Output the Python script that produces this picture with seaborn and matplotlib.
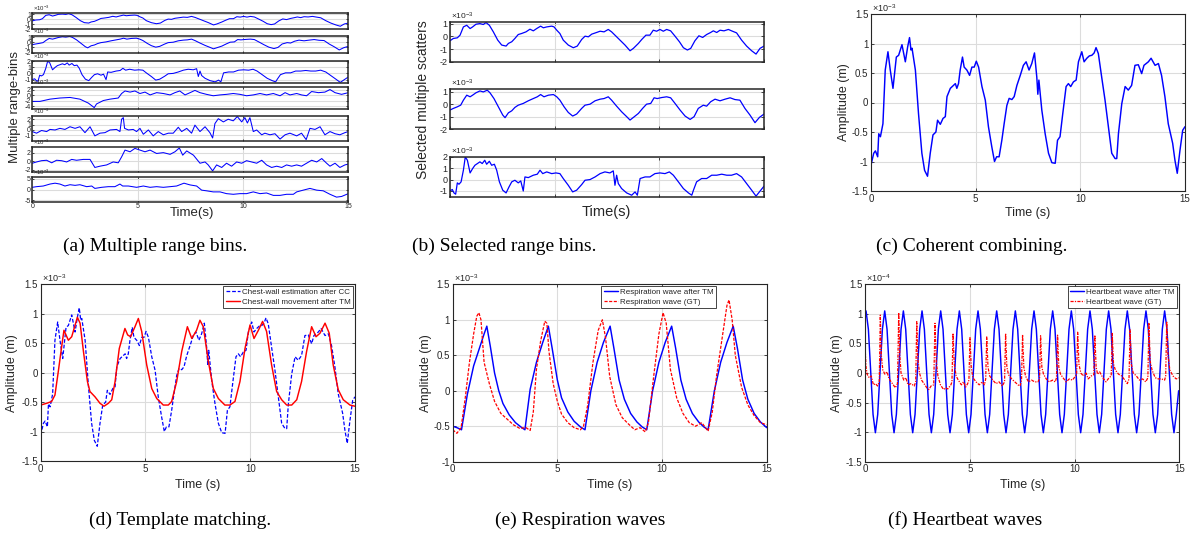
import numpy as np
import pandas as pd
import seaborn as sns
import matplotlib
matplotlib.use('Agg')
import matplotlib.pyplot as plt

W, H = 1193, 536

# ---------------- data (t in s, amplitude in axis units) ----------------
# range bins 1-3 (also the three selected scatters), x1e-3
bin1 = [(0, -0.35), (0.16, -0.17), (0.35, -0.12), (0.48, 0.09), (0.64, 0.74), (0.8, 0.87), (0.96, 0.61),
        (1.08, 0.74), (1.24, 0.95), (1.43, 1.0), (1.59, 0.93), (1.72, 1.08), (1.88, 0.87), (2.07, 0.35),
        (2.28, -0.3), (2.47, -0.69), (2.68, -0.77), (2.79, -0.56), (2.95, -0.43), (3.1, -0.17), (3.26, 0.14),
        (3.42, 0.22), (3.63, 0.35), (3.82, 0.56), (3.98, 0.43), (4.14, 0.61), (4.33, 0.8), (4.46, 0.67),
        (4.62, 0.74), (4.86, 0.8), (4.97, 0.74), (5.1, 0.48), (5.25, 0.22), (5.41, -0.3), (5.65, -0.69),
        (5.89, -0.9), (6.08, -0.77), (6.29, -0.25), (6.45, 0.01), (6.61, -0.04), (6.77, 0.17), (7.0, 0.3),
        (7.17, 0.4), (7.36, 0.35), (7.56, 0.54), (7.72, 0.35), (7.88, 0.09), (8.12, -0.3), (8.36, -0.69),
        (8.6, -1.14), (8.76, -0.95), (9.0, -0.56), (9.16, -0.25), (9.36, 0.09), (9.55, 0.09), (9.71, 0.48),
        (9.87, 0.4), (10.03, 0.54), (10.19, 0.4), (10.35, 0.54), (10.54, 0.43), (10.75, 0.01), (10.96, -0.43),
        (11.15, -0.9), (11.34, -1.08), (11.5, -0.95), (11.7, -0.35), (11.89, 0.04), (12.07, -0.09),
        (12.26, 0.14), (12.45, 0.3), (12.58, 0.43), (12.74, 0.3), (12.9, 0.48), (13.09, 0.43), (13.3, 0.54),
        (13.45, 0.43), (13.69, 0.27), (13.93, -0.3), (14.17, -0.77), (14.41, -1.14), (14.62, -1.4),
        (14.81, -0.95), (15, -0.77)]
bin2 = [(0, -0.46), (0.16, -0.33), (0.35, -0.2), (0.51, -0.07), (0.64, 0.33), (0.8, 0.73), (0.96, 0.6),
        (1.08, 0.73), (1.24, 0.92), (1.43, 1.07), (1.59, 0.99), (1.78, 1.13), (1.91, 0.92), (2.1, 0.46),
        (2.31, -0.2), (2.52, -0.86), (2.63, -1.07), (2.79, -0.68), (2.95, -0.52), (3.1, -0.25), (3.26, -0.07),
        (3.5, 0.07), (3.74, 0.28), (3.98, 0.46), (4.17, 0.6), (4.33, 0.78), (4.49, 0.6), (4.7, 0.73),
        (4.94, 0.78), (5.1, 0.6), (5.25, 0.33), (5.45, -0.2), (5.65, -0.65), (5.86, -0.94), (6.05, -0.78),
        (6.29, -0.33), (6.45, -0.07), (6.69, 0.01), (6.93, 0.28), (7.17, 0.41), (7.36, 0.46), (7.56, 0.6),
        (7.72, 0.33), (7.96, -0.15), (8.2, -0.6), (8.44, -0.99), (8.6, -1.26), (8.76, -1.05), (9.0, -0.73),
        (9.2, -0.33), (9.39, 0.01), (9.59, 0.07), (9.75, 0.52), (9.9, 0.46), (10.11, 0.54), (10.35, 0.6),
        (10.54, 0.52), (10.75, 0.07), (10.99, -0.46), (11.23, -0.94), (11.47, -1.21), (11.66, -0.99),
        (11.86, -0.33), (12.1, -0.07), (12.26, -0.15), (12.45, 0.2), (12.66, 0.41), (12.9, 0.28),
        (13.14, 0.41), (13.38, 0.52), (13.61, 0.38), (13.85, 0.33), (14.09, -0.33), (14.33, -0.86),
        (14.57, -1.47), (14.78, -1.05), (15, -0.78)]
bin3 = [(0, -1.0), (0.11, -0.87), (0.19, -1.17), (0.27, -1.28), (0.35, -0.29), (0.43, -0.41), (0.53, -0.2),
        (0.64, 0.82), (0.73, 1.98), (0.83, 1.69), (0.96, 0.58), (1.08, 0.96), (1.19, 1.25), (1.31, 1.4),
        (1.43, 1.55), (1.54, 1.4), (1.66, 1.69), (1.75, 1.34), (1.88, 1.6), (1.99, 1.25), (2.12, 1.34),
        (2.23, 0.82), (2.36, -0.2), (2.52, -0.93), (2.68, -1.17), (2.82, -0.64), (2.95, -0.2), (3.1, -0.06),
        (3.26, -0.29), (3.38, -0.12), (3.5, -1.0), (3.58, 0.23), (3.74, 0.17), (3.98, 0.38), (4.17, 0.47),
        (4.3, 0.82), (4.43, 0.52), (4.62, 0.67), (4.86, 0.52), (5.06, 0.58), (5.25, 0.52), (5.41, 0.09),
        (5.65, -0.5), (5.86, -1.08), (6.05, -0.93), (6.29, -0.44), (6.45, -0.06), (6.69, 0.0), (6.93, 0.23),
        (7.17, 0.52), (7.4, 0.67), (7.64, 0.58), (7.8, 0.76), (7.88, -0.5), (7.96, 0.38), (8.04, -0.35),
        (8.2, -0.79), (8.44, -1.17), (8.68, -1.37), (8.84, -1.08), (8.95, -1.37), (9.08, 0.09), (9.32, 0.23),
        (9.55, 0.23), (9.79, 0.52), (10.03, 0.58), (10.27, 0.52), (10.48, 0.67), (10.67, 0.38), (10.91, -0.2),
        (11.15, -0.79), (11.39, -1.17), (11.55, -1.37), (11.63, -0.93), (11.78, -0.2), (12.02, 0.09),
        (12.26, 0.09), (12.5, 0.38), (12.74, 0.38), (12.98, 0.47), (13.22, 0.38), (13.45, 0.38), (13.69, 0.52),
        (13.93, 0.23), (14.17, -0.35), (14.41, -0.93), (14.62, -1.45), (14.78, -1.08), (15, -0.58)]
bin4 = [(0, -2.2), (0.36, -2.2), (0.84, -1.4), (1.31, -1.0), (1.79, -0.8), (2.26, -1.4), (2.66, -2.8),
        (2.94, -4.4), (3.05, -3.1), (3.37, -1.9), (3.69, -1.4), (4.08, -1.0), (4.24, 0.6), (4.4, 1.5),
        (4.64, 1.1), (4.87, 1.5), (5.11, 0.6), (5.35, 1.1), (5.59, 0.1), (5.9, 0.9), (6.22, 0.6), (6.54, 0.1),
        (6.77, 0.9), (7.0, 1.5), (7.25, 0.1), (7.49, 0.9), (7.72, 1.7), (7.96, 0.9), (8.27, 0.3), (8.59, -0.2),
        (8.91, 0.1), (9.22, 0.3), (9.54, 0.6), (9.86, 0.3), (10.17, -0.2), (10.49, 0.1), (10.81, 0.6),
        (11.12, 0.1), (11.44, 0.6), (11.76, -0.2), (12.0, 0.9), (12.23, 0.1), (12.55, 0.6), (12.78, 0.1),
        (13.02, -0.2), (13.26, 1.3), (13.58, 0.9), (13.89, 1.1), (14.13, 2.0), (14.37, 0.9), (14.68, 0.3),
        (15, 0.9)]
bin5 = [(0, -0.3), (0.2, -0.6), (0.44, -0.1), (0.68, -0.3), (0.84, 0.1), (1.08, 0.0), (1.31, 0.3), (1.55, 0.1),
        (1.79, 0.6), (2.03, 0.3), (2.26, 0.6), (2.5, -0.5), (2.74, 0.6), (2.97, -1.1), (3.21, -0.6), (3.45, -0.5),
        (3.69, 0.0), (4.0, 0.1), (4.16, -0.3), (4.24, 2.0), (4.32, 2.3), (4.38, 0.3), (4.56, 0.0), (4.79, 0.1),
        (4.95, -0.3), (5.11, 0.3), (5.27, -0.8), (5.51, 0.0), (5.74, -1.1), (5.98, -0.3), (6.22, -0.9),
        (6.46, -0.6), (6.69, -0.6), (6.93, 0.5), (7.09, -0.3), (7.33, 0.3), (7.56, -0.6), (7.72, 0.9),
        (7.96, -0.3), (8.2, 0.6), (8.43, -0.5), (8.56, -1.5), (8.67, 1.2), (8.83, 2.1), (9.07, 1.5), (9.3, 2.0),
        (9.54, 1.7), (9.73, 2.5), (9.94, 1.5), (10.09, 2.3), (10.21, 1.3), (10.33, 2.3), (10.49, -0.3),
        (10.65, 0.0), (10.89, -0.9), (11.04, -0.6), (11.28, -0.9), (11.52, -0.7), (11.76, -1.7), (12.0, -0.9),
        (12.23, -0.6), (12.55, -1.1), (12.78, -0.6), (13.0, -1.8), (13.18, 0.3), (13.42, 0.1), (13.66, 0.6),
        (13.89, -0.9), (14.13, -0.3), (14.37, -0.7), (14.6, -0.9), (14.84, -0.5), (15, -0.3)]
bin6 = [(0, -0.5), (0.2, -0.2), (0.44, 0.1), (0.68, 0.2), (0.92, -0.4), (1.15, 0.2), (1.39, 0.1), (1.63, -0.2),
        (1.87, 0.4), (2.1, 0.2), (2.42, 0.4), (2.74, 0.4), (2.97, -1.5), (3.21, -1.2), (3.53, -0.9), (3.84, -0.2),
        (4.08, -0.4), (4.24, 1.0), (4.4, 2.6), (4.64, 2.2), (4.87, 3.0), (5.11, 2.6), (5.35, 2.2), (5.59, 2.6),
        (5.9, 1.8), (6.22, 2.0), (6.54, 1.6), (6.77, 2.2), (6.98, 3.1), (7.14, 1.4), (7.33, 2.4), (7.65, 1.4),
        (7.96, -0.5), (8.2, -0.2), (8.35, -0.9), (8.56, -2.3), (8.75, -0.9), (8.99, -1.5), (9.22, -0.5),
        (9.46, -1.2), (9.7, -0.2), (9.94, -0.5), (10.17, 0.1), (10.41, -0.2), (10.65, -0.5), (10.89, 0.2),
        (11.12, -0.9), (11.36, -1.5), (11.6, -1.2), (11.84, -1.5), (12.07, -0.9), (12.31, -1.2), (12.55, -0.9),
        (12.78, -1.2), (13.02, -0.5), (13.26, 0.2), (13.5, -0.2), (13.74, 0.6), (13.97, -0.5), (14.13, -1.2),
        (14.37, -0.5), (14.6, -1.5), (14.84, -0.9), (15, -0.7)]
bin7 = [(0, 1.0), (0.2, 1.3), (0.52, 1.6), (0.84, 2.5), (1.08, 2.9), (1.31, 2.5), (1.55, 1.6), (1.79, 2.2),
        (2.03, 1.9), (2.26, 2.2), (2.58, 1.3), (2.82, 1.6), (2.97, 0.5), (3.29, 1.0), (3.61, 1.3), (3.92, 1.3),
        (4.16, 2.5), (4.29, 1.6), (4.56, 1.6), (4.95, 1.0), (5.27, 1.6), (5.59, 1.0), (5.9, 1.3), (6.22, 1.0),
        (6.54, 1.3), (6.85, 1.6), (7.2, 2.9), (7.49, 2.1), (7.8, 1.6), (8.04, -0.3), (8.27, -0.6), (8.59, -1.1),
        (8.91, -1.1), (9.22, -1.9), (9.54, -2.2), (9.86, -1.9), (10.17, -1.9), (10.49, -1.1), (10.81, -1.9),
        (11.12, -1.6), (11.44, -2.7), (11.76, -2.7), (12.07, -2.2), (12.39, -2.2), (12.55, -1.1), (12.86, -0.3),
        (13.18, 0.5), (13.5, -0.3), (13.81, -0.6), (14.13, -2.2), (14.44, -3.5), (14.68, -3.2), (15, -1.9)]

# coherent combining output (x1e-3)
cc_wave = [(0, -1.06), (0.13, -0.86), (0.21, -0.82), (0.32, -0.92), (0.37, -0.53), (0.45, -0.58), (0.57, -0.36),
           (0.68, 0.55), (0.81, 0.86), (0.92, 0.55), (1.05, 0.24), (1.21, 0.77), (1.32, 0.80), (1.48, 0.98),
           (1.64, 0.69), (1.75, 0.94), (1.84, 1.10), (1.91, 0.89), (1.96, 0.92), (2.12, 0.55), (2.27, -0.19),
           (2.43, -0.86), (2.56, -1.15), (2.70, -1.25), (2.83, -0.86), (2.96, -0.55), (3.10, -0.50), (3.18, -0.30),
           (3.31, -0.37), (3.44, -0.27), (3.55, -0.24), (3.63, 0.10), (3.79, 0.24), (3.91, 0.28), (4.03, 0.32),
           (4.10, 0.24), (4.18, 0.32), (4.26, 0.55), (4.37, 0.77), (4.45, 0.60), (4.58, 0.55), (4.71, 0.46),
           (4.82, 0.60), (4.93, 0.60), (5.03, 0.70), (5.14, 0.60), (5.30, 0.27), (5.46, 0.04), (5.61, -0.41),
           (5.77, -0.75), (5.90, -1.00), (6.00, -0.92), (6.12, -0.92), (6.25, -0.64), (6.36, -0.36), (6.49, -0.05),
           (6.60, 0.07), (6.73, 0.05), (6.84, 0.10), (6.97, 0.29), (7.13, 0.46), (7.28, 0.63), (7.41, 0.69),
           (7.55, 0.55), (7.68, 0.66), (7.81, 0.84), (7.92, 0.43), (7.97, 0.14), (8.02, 0.38), (8.16, -0.13),
           (8.32, -0.53), (8.48, -0.86), (8.64, -1.02), (8.80, -1.03), (8.91, -0.64), (9.03, -0.58), (9.16, -0.19),
           (9.32, 0.27), (9.43, 0.32), (9.54, 0.27), (9.67, 0.35), (9.80, 0.38), (9.91, 0.69), (10.07, 0.86),
           (10.18, 0.69), (10.31, 0.75), (10.43, 0.79), (10.55, 0.80), (10.66, 0.84), (10.75, 0.93), (10.86, 0.83),
           (11.02, 0.43), (11.18, 0.04), (11.34, -0.41), (11.50, -0.86), (11.66, -0.95), (11.74, -0.95),
           (11.82, -0.53), (11.98, -0.02), (12.14, 0.27), (12.29, 0.21), (12.45, 0.29), (12.61, 0.63), (12.77, 0.64),
           (12.93, 0.49), (13.04, 0.63), (13.25, 0.69), (13.38, 0.75), (13.57, 0.63), (13.73, 0.66), (13.88, 0.46),
           (14.04, 0.10), (14.20, -0.36), (14.41, -0.69), (14.52, -0.98), (14.63, -1.20), (14.76, -0.81),
           (14.89, -0.47), (15.0, -0.41)]

# chest-wall movement after template matching (x1e-3)
tm_wave = [(0, -0.55), (0.29, -0.52), (0.52, -0.49), (0.68, -0.38), (0.84, 0.02), (1.0, 0.44), (1.11, 0.72),
           (1.32, 0.55), (1.48, 0.61), (1.75, 0.94), (1.88, 0.84), (2.04, 0.36), (2.23, -0.15), (2.35, -0.32),
           (2.59, -0.41), (2.83, -0.52), (3.02, -0.57), (3.23, -0.52), (3.39, -0.46), (3.55, -0.15), (3.75, 0.41),
           (4.02, 0.75), (4.15, 0.64), (4.29, 0.61), (4.5, 0.78), (4.66, 0.92), (4.82, 0.70), (5.06, 0.13),
           (5.3, -0.27), (5.54, -0.44), (5.85, -0.55), (6.09, -0.55), (6.25, -0.49), (6.49, -0.15), (6.73, 0.36),
           (7.0, 0.78), (7.21, 0.58), (7.44, 0.72), (7.6, 0.89), (7.76, 0.78), (8.0, 0.19), (8.24, -0.27),
           (8.48, -0.44), (8.79, -0.55), (9.03, -0.55), (9.27, -0.49), (9.51, -0.15), (9.75, 0.41), (9.99, 0.81),
           (10.18, 0.58), (10.39, 0.72), (10.59, 0.87), (10.78, 0.70), (11.02, 0.13), (11.26, -0.32), (11.5, -0.46),
           (11.74, -0.55), (11.98, -0.55), (12.22, -0.46), (12.45, -0.15), (12.69, 0.36), (12.93, 0.78),
           (13.14, 0.61), (13.33, 0.67), (13.57, 0.84), (13.77, 0.67), (13.96, 0.13), (14.2, -0.29), (14.44, -0.46),
           (14.76, -0.55), (15, -0.57)]

# respiration waves (x1e-3)
resp_tm = [(0, -0.50), (0.2, -0.52), (0.42, -0.55), (0.7, -0.05), (1.0, 0.35), (1.3, 0.62), (1.5, 0.80),
           (1.63, 0.91), (1.8, 0.62), (2.0, 0.25), (2.2, 0.0), (2.4, -0.18), (2.7, -0.34), (3.0, -0.45),
           (3.3, -0.52), (3.45, -0.55), (3.7, 0.02), (4.0, 0.40), (4.3, 0.68), (4.57, 0.91), (4.75, 0.60),
           (5.0, 0.15), (5.2, -0.10), (5.5, -0.30), (5.8, -0.43), (6.1, -0.51), (6.32, -0.55), (6.6, 0.0),
           (6.9, 0.40), (7.2, 0.68), (7.52, 0.91), (7.7, 0.60), (7.95, 0.15), (8.2, -0.12), (8.5, -0.32),
           (8.8, -0.44), (9.05, -0.51), (9.27, -0.55), (9.55, 0.0), (9.85, 0.40), (10.15, 0.68), (10.46, 0.91),
           (10.65, 0.60), (10.9, 0.15), (11.15, -0.12), (11.45, -0.32), (11.75, -0.44), (12.0, -0.51),
           (12.2, -0.55), (12.5, 0.0), (12.8, 0.40), (13.1, 0.68), (13.4, 0.91), (13.6, 0.60), (13.85, 0.15),
           (14.1, -0.12), (14.4, -0.32), (14.7, -0.44), (15, -0.52)]
resp_gt = [(0, -0.55), (0.2, -0.6), (0.4, -0.52), (0.6, -0.1), (0.8, 0.4), (1.0, 0.8), (1.15, 1.05), (1.25, 1.1),
           (1.35, 1.0), (1.5, 0.4), (1.75, 0.1), (2.0, -0.15), (2.3, -0.32), (2.6, -0.4), (2.9, -0.48),
           (3.2, -0.53), (3.5, -0.52), (3.7, -0.56), (3.85, -0.3), (4.0, 0.3), (4.2, 0.7), (4.4, 0.98),
           (4.5, 0.95), (4.6, 0.55), (4.8, 0.1), (5.0, -0.15), (5.2, -0.33), (5.5, -0.45), (5.8, -0.52),
           (6.1, -0.55), (6.25, -0.5), (6.45, -0.2), (6.7, 0.4), (6.95, 0.85), (7.15, 1.0), (7.3, 0.75), (7.5, 0.2),
           (7.8, -0.2), (8.1, -0.38), (8.4, -0.47), (8.7, -0.55), (8.95, -0.52), (9.2, -0.58), (9.35, -0.45),
           (9.6, 0.2), (9.85, 0.8), (10.05, 1.1), (10.2, 0.95), (10.4, 0.3), (10.7, -0.1), (11.0, -0.32),
           (11.3, -0.45), (11.6, -0.5), (11.9, -0.45), (12.2, -0.57), (12.4, -0.3), (12.6, 0.2), (12.9, 0.8),
           (13.1, 1.2), (13.2, 1.28), (13.35, 1.0), (13.5, 0.5), (13.8, 0.05), (14.1, -0.2), (14.4, -0.35),
           (14.7, -0.45), (15.0, -0.48)]

# heartbeat wave after TM (x1e-4), sampled every hb_dt seconds from hb_t0
hb_t0, hb_dt = -0.0613, 0.11133
hb_tm = [0.74, 1.05, 0.74, 0.02, -0.70, -1.01, -0.70, 0.02,
         0.74, 1.05, 0.74, 0.02, -0.70, -1.01, -0.70, 0.02,
         0.74, 1.05, 0.74, 0.02, -0.70, -1.01, -0.70, 0.02,
         0.74, 1.05, 0.74, 0.02, -0.70, -1.01, -0.70, 0.02,
         0.74, 1.05, 0.74, 0.02, -0.70, -1.01, -0.70, 0.02,
         0.74, 1.05, 0.74, 0.02, -0.70, -1.01, -0.70, 0.02,
         0.74, 1.05, 0.74, 0.02, -0.70, -1.01, -0.70, 0.02,
         0.74, 1.05, 0.74, 0.02, -0.70, -1.01, -0.70, 0.02,
         0.74, 1.05, 0.74, 0.02, -0.70, -1.01, -0.70, 0.02,
         0.74, 1.05, 0.74, 0.02, -0.70, -1.01, -0.70, 0.02,
         0.74, 1.05, 0.74, 0.02, -0.70, -1.01, -0.70, 0.02,
         0.74, 1.05, 0.74, 0.02, -0.70, -1.01, -0.70, 0.02,
         0.74, 1.05, 0.74, 0.02, -0.70, -1.01, -0.70, 0.02,
         0.74, 1.05, 0.74, 0.02, -0.70, -1.01, -0.70, 0.02,
         0.74, 1.05, 0.74, 0.02, -0.70, -1.01, -0.70, 0.02,
         0.74, 1.05, 0.74, 0.02, -0.70, -1.01, -0.70, 0.02,
         0.74, 1.05, 0.74, 0.02, -0.70, -1.01, -0.70, -0.30]
# heartbeat ground truth (x1e-4)
hb_gt = [(0.0, 0.47), (0.05, 0.1), (0.1, -0.02), (0.2, -0.08), (0.3, -0.05), (0.4, -0.2), (0.5, -0.18),
         (0.6, -0.22), (0.68, -0.15), (0.73, 0.98), (0.78, 0.3), (0.85, 0.05), (0.95, -0.02), (1.05, 0.02),
         (1.15, -0.1), (1.25, -0.15), (1.35, -0.2), (1.45, -0.25), (1.55, -0.18), (1.61, 1.02), (1.66, 0.3),
         (1.72, 0.0), (1.85, -0.12), (1.95, -0.08), (2.05, -0.2), (2.2, -0.18), (2.35, -0.22), (2.42, -0.15),
         (2.47, 0.87), (2.52, 0.25), (2.6, 0.0), (2.7, -0.12), (2.85, -0.2), (2.95, -0.25), (3.05, -0.28),
         (3.15, -0.22), (3.28, -0.2), (3.34, 0.84), (3.4, 0.2), (3.48, -0.05), (3.6, -0.2), (3.75, -0.28),
         (3.85, -0.25), (3.95, -0.27), (4.1, -0.2), (4.15, -0.15), (4.2, 0.67), (4.26, 0.15), (4.35, -0.05),
         (4.45, -0.12), (4.6, -0.2), (4.7, -0.15), (4.8, -0.24), (4.9, -0.18), (4.96, -0.12), (5.01, 0.6),
         (5.07, 0.1), (5.15, -0.08), (5.3, -0.15), (5.45, -0.2), (5.6, -0.15), (5.7, -0.2), (5.76, -0.1),
         (5.81, 0.61), (5.87, 0.1), (5.95, -0.05), (6.1, -0.12), (6.25, -0.18), (6.4, -0.15), (6.55, -0.22),
         (6.66, -0.15), (6.71, 0.67), (6.77, 0.1), (6.85, -0.03), (7.0, -0.1), (7.15, -0.15), (7.3, -0.2),
         (7.4, -0.22), (7.47, -0.12), (7.52, 0.65), (7.58, 0.1), (7.66, -0.05), (7.8, -0.15), (7.95, -0.12),
         (8.1, -0.15), (8.25, -0.15), (8.33, -0.1), (8.38, 0.63), (8.44, 0.1), (8.52, -0.02), (8.65, -0.1),
         (8.8, -0.15), (8.95, -0.12), (9.08, -0.15), (9.14, -0.08), (9.19, 0.64), (9.25, 0.1), (9.33, -0.02),
         (9.45, -0.08), (9.6, -0.15), (9.75, -0.1), (9.9, -0.12), (10.05, -0.05), (10.1, -0.02), (10.15, 0.69),
         (10.21, 0.15), (10.3, 0.0), (10.42, -0.05), (10.55, 0.0), (10.65, -0.1), (10.8, -0.05), (10.92, -0.03),
         (10.97, 0.64), (11.03, 0.1), (11.1, -0.02), (11.2, 0.02), (11.35, -0.08), (11.5, -0.15), (11.65, -0.08),
         (11.75, -0.05), (11.8, 0.67), (11.86, 0.15), (11.95, 0.05), (12.1, -0.02), (12.25, -0.05), (12.4, -0.12),
         (12.52, -0.18), (12.6, -0.1), (12.65, 0.73), (12.71, 0.15), (12.8, 0.0), (12.95, -0.05), (13.1, -0.12),
         (13.25, -0.1), (13.4, -0.15), (13.5, -0.08), (13.55, 0.85), (13.61, 0.2), (13.7, 0.05), (13.85, -0.08),
         (14.0, -0.1), (14.15, -0.1), (14.3, -0.12), (14.35, -0.05), (14.4, 0.87), (14.46, 0.3), (14.55, 0.05),
         (14.7, -0.05), (14.85, -0.1), (15.0, -0.08)]

bin_ylims = [(-2, 1.15), (-2, 1.2), (-1.5, 2), (-5, 2.8), (-2, 2.6), (-2.5, 3.4), (-5.6, 5.6)]
bin_yticks = [[-2, -1, 0, 1], [-2, -1, 0, 1], [-1, 0, 1, 2], [-4, -2, 0, 2], [-1, 0, 1, 2], [-2, 0, 2], [-5, 0, 5]]
captions = ['(a) Multiple range bins.', '(b) Selected range bins.', '(c) Coherent combining.',
            '(d) Template matching.', '(e) Respiration waves', '(f) Heartbeat waves']

# ---------------- drawing ----------------
sns.set_theme(context='paper', style='ticks')
plt.rcParams['font.family'] = ['Liberation Sans', 'DejaVu Sans']
plt.rcParams['axes.unicode_minus'] = False
plt.rcParams['mathtext.default'] = 'regular'

INK = '#262626'
BLUE = '#0000ff'
RED = '#ff0000'

fig = plt.figure(figsize=(W / 100, H / 100), dpi=100)
fig.patch.set_facecolor('white')


def px(x0, y0, x1, y1):
    return fig.add_axes([x0 / W, 1 - y1 / H, (x1 - x0) / W, (y1 - y0) / H])


def trace(ax, pts, color, ls='-', lw=1.0, label=None):
    df = pd.DataFrame(pts, columns=['t', 'amp'])
    sns.lineplot(data=df, x='t', y='amp', ax=ax, color=color, linestyle=ls,
                 linewidth=lw, label=label, estimator=None, sort=False)


def style(ax, ylim, yticks, fs, xlabels=True, exp='-3', efs=6.5, lw=0.8):
    ax.set_xlim(0, 15)
    ax.set_ylim(*ylim)
    ax.set_xticks([0, 5, 10, 15])
    ax.set_xticklabels(['0', '5', '10', '15'] if xlabels else [])
    ax.set_yticks(yticks)
    ax.set_yticklabels([f'{v:g}' for v in yticks])
    ax.tick_params(direction='in', top=True, right=True, length=2.5, width=0.6,
                   labelsize=fs, colors=INK, pad=2)
    ax.grid(True, color='#dcdcdc', linewidth=0.8)
    ax.set_axisbelow(True)
    for s in ax.spines.values():
        s.set_color(INK)
        s.set_linewidth(lw)
    ax.set_xlabel('')
    ax.set_ylabel('')
    ax.text(0.003, 1.0, r'$\times10^{%s}$' % exp, transform=ax.transAxes,
            ha='left', va='bottom', fontsize=efs, color=INK)


def legend(ax, xr):
    leg = ax.legend(loc='upper right', bbox_to_anchor=(xr, 0.99), fontsize=5.8, frameon=True,
                    fancybox=False, edgecolor=INK, framealpha=1, handlelength=1.7,
                    handletextpad=0.3, borderpad=0.3, labelspacing=0.25, borderaxespad=0)
    leg.get_frame().set_linewidth(0.6)
    for t in leg.get_texts():
        t.set_color(INK)


# (a) seven range bins
a_rows = [(13.3, 29.3), (36, 52.7), (61, 82.7), (87.3, 109.3), (116, 140.7), (146.7, 171.7), (177.3, 201.7)]
bins = [bin1, bin2, bin3, bin4, bin5, bin6, bin7]
for i, (y0, y1) in enumerate(a_rows):
    ax = px(32.3, y0, 348.3, y1)
    trace(ax, bins[i], BLUE, lw=0.75)
    style(ax, bin_ylims[i], bin_yticks[i], 5, xlabels=(i == 6), efs=4.3, lw=1.1)
    ax.tick_params(pad=1, length=1.5)
fig.text(15 / W, 1 - 107 / H, 'Multiple range-bins', rotation=90, ha='center', va='center',
         fontsize=9.5, color=INK)
fig.text(192 / W, 1 - 213 / H, 'Time(s)', ha='center', va='center', fontsize=9.5, color=INK)

# (b) three selected scatters
b_rows = [(21.7, 61.7), (89.3, 129.3), (156.7, 196.7)]
for i, (y0, y1) in enumerate(b_rows):
    ax = px(450, y0, 764, y1)
    trace(ax, bins[i], BLUE, lw=0.9)
    style(ax, bin_ylims[i], bin_yticks[i], 6.5, xlabels=False, efs=6, lw=1.1)
fig.text(423 / W, 1 - 100 / H, 'Selected multiple scatters', rotation=90, ha='center', va='center',
         fontsize=10, color=INK)
fig.text(606 / W, 1 - 212 / H, 'Time(s)', ha='center', va='center', fontsize=10.5, color=INK)

# (c) coherent combining
ax_c = px(871, 14, 1185, 191)
trace(ax_c, cc_wave, BLUE, lw=1.05)
style(ax_c, (-1.5, 1.5), [-1.5, -1, -0.5, 0, 0.5, 1, 1.5], 7)

# (d) template matching
ax_d = px(40.7, 284.3, 355, 461)
trace(ax_d, cc_wave, BLUE, ls=(0, (3, 1.5)), lw=0.9, label='Chest-wall estimation after CC')
trace(ax_d, tm_wave, RED, lw=1.05, label='Chest-wall movement after TM')
style(ax_d, (-1.5, 1.5), [-1.5, -1, -0.5, 0, 0.5, 1, 1.5], 7)
legend(ax_d, 0.994)

# (e) respiration waves
ax_e = px(452.7, 284.3, 766.7, 461.7)
trace(ax_e, resp_tm, BLUE, lw=1.05, label='Respiration wave after TM')
trace(ax_e, resp_gt, RED, ls=(0, (2.5, 1.2)), lw=0.9, label='Respiration wave (GT)')
style(ax_e, (-1, 1.5), [-1, -0.5, 0, 0.5, 1, 1.5], 7)
legend(ax_e, 0.8385)

# (f) heartbeat waves
ax_f = px(865, 284.3, 1179.3, 461.7)
hb_df = pd.DataFrame({'t': hb_t0 + hb_dt * np.arange(len(hb_tm)), 'amp': hb_tm})
sns.lineplot(data=hb_df, x='t', y='amp', ax=ax_f, color=BLUE, linewidth=1.05,
             label='Heartbeat wave after TM', estimator=None, sort=False)
trace(ax_f, hb_gt, RED, ls=(0, (2.5, 1, 1, 1)), lw=0.9, label='Heartbeat wave (GT)')
style(ax_f, (-1.5, 1.5), [-1.5, -1, -0.5, 0, 0.5, 1, 1.5], 7, exp='-4')
legend(ax_f, 0.993)

for ax, xl, yl in [(ax_c, -0.068, -0.09), (ax_d, -0.073, -0.10),
                   (ax_e, -0.066, -0.10), (ax_f, -0.07, -0.10)]:
    ax.set_ylabel('Amplitude (m)', fontsize=9, color=INK)
    ax.set_xlabel('Time (s)', fontsize=9, color=INK)
    ax.yaxis.set_label_coords(xl, 0.5)
    ax.xaxis.set_label_coords(0.5, yl)

# captions
for txt, (cx, cy) in zip(captions, [(155, 246), (504, 246), (972, 246), (180, 520), (580, 520), (965, 520)]):
    fig.text(cx / W, 1 - cy / H, txt, ha='center', va='center', fontsize=14,
             family=['Liberation Serif', 'DejaVu Serif'], color='black')

fig.savefig('out.png', dpi=100, facecolor='white')
